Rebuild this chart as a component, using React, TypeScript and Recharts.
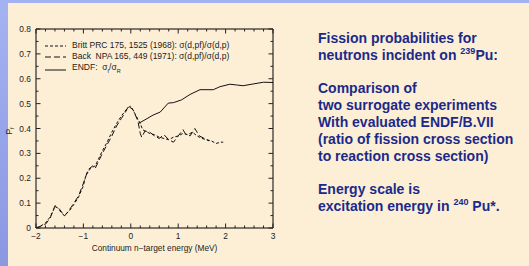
import { LineChart, Line, XAxis, YAxis, Legend } from "recharts";

// Britt PRC 175, 1525 (1968)
const brittEnergy = [
  -2.0, -1.9, -1.8, -1.7, -1.6, -1.55, -1.5, -1.45, -1.4, -1.3, -1.2, -1.1, -1.0, -0.95, -0.9,
  -0.85, -0.8, -0.75, -0.7, -0.6, -0.5, -0.4, -0.3, -0.2, -0.1, -0.05, 0.0, 0.1, 0.2, 0.25, 0.3,
  0.4, 0.5, 0.6, 0.7, 0.8, 0.9, 1.0, 1.1, 1.2, 1.3, 1.4, 1.5, 1.6, 1.7, 1.8, 1.9, 1.95,
];
const brittProb = [
  0.0, 0.008, 0.02, 0.045, 0.085, 0.082, 0.07, 0.058, 0.05, 0.068, 0.095, 0.125, 0.17, 0.21, 0.225,
  0.24, 0.245, 0.25, 0.27, 0.31, 0.345, 0.385, 0.42, 0.45, 0.475, 0.485, 0.49, 0.455, 0.42, 0.395, 0.39,
  0.38, 0.375, 0.365, 0.36, 0.355, 0.365, 0.37, 0.38, 0.375, 0.385, 0.37, 0.36, 0.355, 0.35, 0.34, 0.345, 0.345,
];

// Back NPA 165, 449 (1971)
const backEnergy = [
  -2.0, -1.8, -1.7, -1.6, -1.5, -1.4, -1.3, -1.2, -1.1, -1.0, -0.9, -0.8, -0.75, -0.7, -0.6, -0.5,
  -0.4, -0.3, -0.2, -0.1, -0.05, 0.05, 0.15, 0.2, 0.23, 0.3, 0.4, 0.5, 0.6, 0.7, 0.8, 0.9, 1.0, 1.1,
  1.15, 1.25, 1.35, 1.45, 1.55, 1.65,
];
const backProb = [
  0.0, 0.015, 0.04, 0.09, 0.075, 0.048, 0.072, 0.1, 0.13, 0.18, 0.235, 0.25, 0.24, 0.26, 0.3, 0.335,
  0.37, 0.41, 0.44, 0.47, 0.49, 0.475, 0.43, 0.38, 0.365, 0.39, 0.385, 0.37, 0.36, 0.375, 0.355, 0.345, 0.37, 0.395,
  0.38, 0.37, 0.4, 0.37, 0.36, 0.35,
];

// ENDF/B-VII sigma_f / sigma_R
const endfEnergy = [0.17, 0.3, 0.47, 0.62, 0.79, 0.9, 1.07, 1.25, 1.46, 1.74, 1.88, 2.09, 2.23, 2.37, 2.58, 2.8, 3.0];
const endfProb = [0.421, 0.435, 0.454, 0.466, 0.502, 0.504, 0.515, 0.537, 0.556, 0.556, 0.568, 0.578, 0.575, 0.572, 0.579, 0.586, 0.585];

const xTicks = [
  -2, -1.8, -1.6, -1.4, -1.2, -1, -0.8, -0.6, -0.4, -0.2, 0, 0.2, 0.4, 0.6, 0.8, 1, 1.2, 1.4, 1.6, 1.8,
  2, 2.2, 2.4, 2.6, 2.8, 3,
];
const yTicks = [0, 0.05, 0.1, 0.15, 0.2, 0.25, 0.3, 0.35, 0.4, 0.45, 0.5, 0.55, 0.6, 0.65, 0.7, 0.75, 0.8];

const zip = (es: number[], ps: number[]) => es.map((e, i) => ({ e, p: ps[i] }));
const britt = zip(brittEnergy, brittProb);
const back = zip(backEnergy, backProb);
const endf = zip(endfEnergy, endfProb);

const FONT = "'Liberation Sans', Arial, sans-serif";
const INK = "#222";

const isMajorX = (v: number) => Math.abs(v - Math.round(v)) < 1e-6;
const isMajorY = (v: number) => Math.abs(v * 10 - Math.round(v * 10)) < 1e-6;
const fmtX = (v: number) => (v < 0 ? "\u2212" + Math.abs(v) : String(v));
const fmtY = (v: number) => String(Math.round(v * 10) / 10);

function makeTick(side: "bottom" | "top" | "left" | "right", showLabel: boolean) {
  return (props: any) => {
    const { x, y, payload } = props;
    const v = payload.value as number;
    const major = side === "bottom" || side === "top" ? isMajorX(v) : isMajorY(v);
    const len = major ? 4.5 : 2.5;
    let line;
    if (side === "bottom") line = <line x1={x} y1={y} x2={x} y2={y - len} />;
    else if (side === "top") line = <line x1={x} y1={y} x2={x} y2={y + len} />;
    else if (side === "left") line = <line x1={x} y1={y} x2={x + len} y2={y} />;
    else line = <line x1={x} y1={y} x2={x - len} y2={y} />;
    return (
      <g stroke={INK} strokeWidth={1}>
        {line}
        {showLabel && major && side === "bottom" && (
          <text x={x} y={y + 10.5} textAnchor="middle" fontSize={8.4} fill={INK} stroke="none" fontFamily={FONT}>
            {fmtX(v)}
          </text>
        )}
        {showLabel && major && side === "left" && (
          <text x={x - 5} y={y + 3} textAnchor="end" fontSize={8.4} fill={INK} stroke="none" fontFamily={FONT}>
            {fmtY(v)}
          </text>
        )}
      </g>
    );
  };
}

const legendRows = [
  { key: "britt", dash: "3 2", label: "Britt PRC 175, 1525 (1968): \u03c3(d,pf)/\u03c3(d,p)" },
  { key: "back", dash: "6 3", label: "Back  NPA 165, 449 (1971): \u03c3(d,pf)/\u03c3(d,p)" },
  { key: "endf", dash: "", label: "ENDF:  " },
];

function LegendBox() {
  return (
    <div style={{ fontFamily: FONT, fontSize: 8.5, color: INK, lineHeight: "11.2px" }}>
      {legendRows.map((r) => (
        <div key={r.key} style={{ display: "flex", alignItems: "center", whiteSpace: "pre" }}>
          <svg width={25} height={6} style={{ marginRight: 2 }}>
            <line x1={0} y1={3} x2={21} y2={3} stroke="#111" strokeWidth={1} strokeDasharray={r.dash || undefined} />
          </svg>
          <span>
            {r.label}
            {r.key === "endf" && (
              <>
                {"\u03c3"}
                <sub style={{ fontSize: 5.5 }}>f</sub>/{"\u03c3"}
                <sub style={{ fontSize: 5.5 }}>R</sub>
              </>
            )}
          </span>
        </div>
      ))}
    </div>
  );
}

export default function App() {
  return (
    <div
      style={{
        position: "absolute",
        left: 0,
        top: 0,
        width: 529,
        height: 266,
        background: "linear-gradient(180deg, #a3b3f2 0%, #8a98e2 100%)",
        overflow: "hidden",
      }}
    >
      <div style={{ position: "absolute", left: 8, top: 3, width: 521, height: 263, background: "#fdefd6" }} />
      <div style={{ position: "absolute", left: 0, top: 0 }}>
        <LineChart width={300} height={266} margin={{ top: 28, right: 26, left: 0, bottom: 0 }}>
          <XAxis
            xAxisId="b"
            dataKey="e"
            type="number"
            domain={[-2, 3]}
            ticks={xTicks}
            interval={0}
            allowDataOverflow
            height={38}
            tickSize={0}
            tickMargin={0}
            tickLine={false}
            axisLine={{ stroke: "#000", strokeWidth: 1 }}
            tick={makeTick("bottom", true)}
            label={{
              value: "Continuum n\u2212target energy (MeV)",
              position: "insideBottom",
              offset: 15,
              style: { fontSize: 8.3, fill: INK, fontFamily: FONT },
            }}
          />
          <XAxis
            xAxisId="t"
            orientation="top"
            dataKey="e"
            type="number"
            domain={[-2, 3]}
            ticks={xTicks}
            interval={0}
            allowDataOverflow
            height={1}
            tickSize={0}
            tickMargin={0}
            tickLine={false}
            axisLine={{ stroke: "#000", strokeWidth: 1 }}
            tick={makeTick("top", false)}
          />
          <YAxis
            yAxisId="l"
            type="number"
            domain={[0, 0.8]}
            ticks={yTicks}
            interval={0}
            allowDataOverflow
            width={36}
            tickSize={0}
            tickMargin={0}
            tickLine={false}
            axisLine={{ stroke: "#000", strokeWidth: 1 }}
            tick={makeTick("left", true)}
            label={{
              content: () => (
                <text transform="translate(12,131) rotate(-90)" fontSize={8.5} fill={INK} fontFamily={FONT} textAnchor="middle">
                  P
                  <tspan fontSize={5.5} dy={2}>
                    f
                  </tspan>
                </text>
              ),
            }}
          />
          <YAxis
            yAxisId="r"
            orientation="right"
            type="number"
            domain={[0, 0.8]}
            ticks={yTicks}
            interval={0}
            allowDataOverflow
            width={1}
            tickSize={0}
            tickMargin={0}
            tickLine={false}
            axisLine={{ stroke: "#000", strokeWidth: 1 }}
            tick={makeTick("right", false)}
          />
          <Legend
            layout="vertical"
            align="center"
            verticalAlign="middle"
            wrapperStyle={{ left: 45, top: 40, width: 240 }}
            content={() => <LegendBox />}
          />
          <Line
            xAxisId="b"
            yAxisId="l"
            data={britt}
            dataKey="p"
            type="linear"
            stroke="#111"
            strokeWidth={1}
            strokeDasharray="3 2"
            dot={false}
            activeDot={false}
            isAnimationActive={false}
          />
          <Line
            xAxisId="b"
            yAxisId="l"
            data={back}
            dataKey="p"
            type="linear"
            stroke="#111"
            strokeWidth={1}
            strokeDasharray="6 3"
            dot={false}
            activeDot={false}
            isAnimationActive={false}
          />
          <Line
            xAxisId="b"
            yAxisId="l"
            data={endf}
            dataKey="p"
            type="linear"
            stroke="#111"
            strokeWidth={1}
            dot={false}
            activeDot={false}
            isAnimationActive={false}
          />
        </LineChart>
      </div>
      <div
        style={{
          position: "absolute",
          left: 318,
          top: 30,
          fontFamily: FONT,
          fontWeight: 700,
          fontSize: 14,
          lineHeight: "16.8px",
          color: "#1b2a8a",
          whiteSpace: "nowrap",
        }}
      >
        Fission probabilities for
        <br />
        neutrons incident on <sup style={{ fontSize: 9, lineHeight: 0 }}>239</sup>Pu:
        <br />
        <br />
        Comparison of
        <br />
        two surrogate experiments
        <br />
        With evaluated ENDF/B.VII
        <br />
        (ratio of fission cross section
        <br />
        to reaction cross section)
        <br />
        <br />
        Energy scale is
        <br />
        excitation energy in <sup style={{ fontSize: 9, lineHeight: 0 }}>240</sup> Pu*.
      </div>
    </div>
  );
}
